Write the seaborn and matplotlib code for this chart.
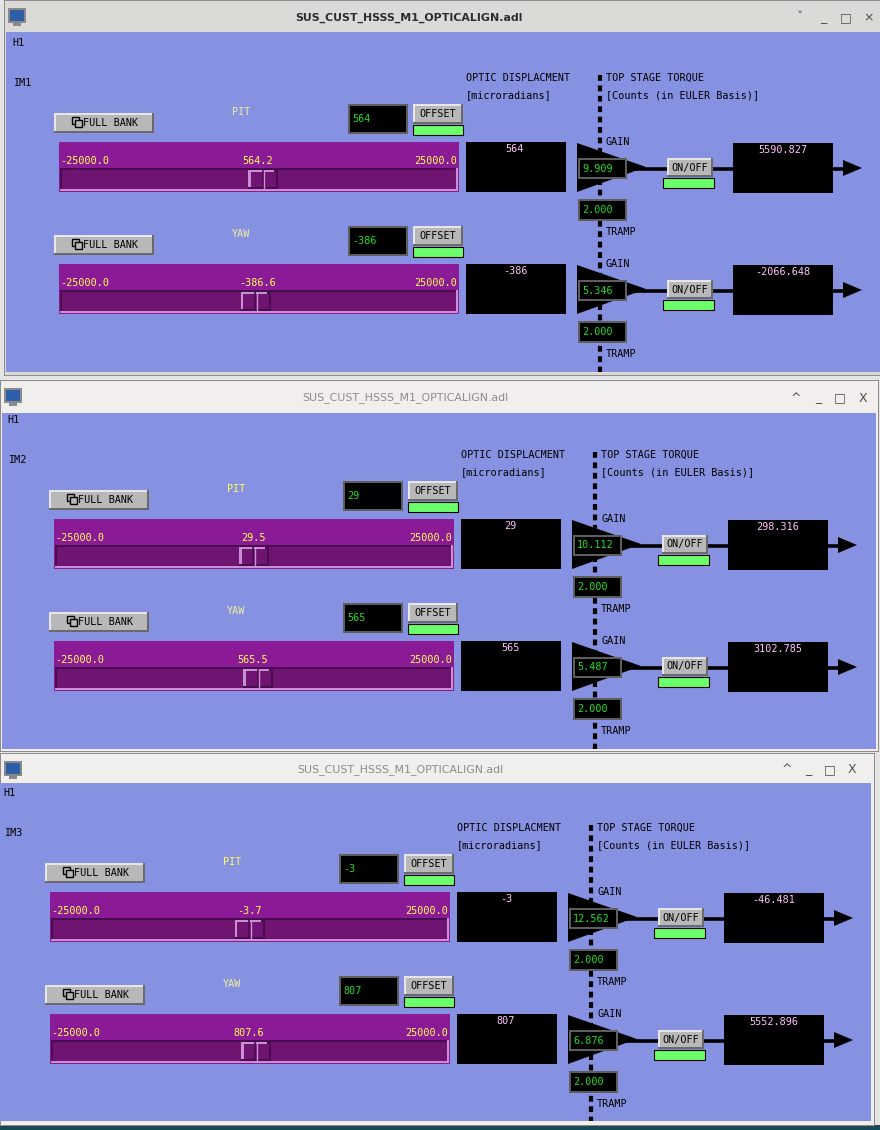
import seaborn as sns
import matplotlib
matplotlib.use("Agg")
import matplotlib.pyplot as plt
from matplotlib.patches import Rectangle, Polygon

sns.set_style("white")
plt.rcParams['font.family'] = ['DejaVu Sans Mono', 'DejaVu Sans']

# screen values
title = "SUS_CUST_HSSS_M1_OPTICALIGN.adl"
stages = ["IM1", "IM2", "IM3"]
dofs = ["PIT", "YAW"]
setpoints = [[564, -386], [29, 565], [-3, 807]]
slider_values = [[564.2, -386.6], [29.5, 565.5], [-3.7, 807.6]]
displacements = [[564, -386], [29, 565], [-3, 807]]
gains = [[9.909, 5.346], [10.112, 5.487], [12.562, 6.876]]
tramps = [[2.000, 2.000], [2.000, 2.000], [2.000, 2.000]]
outputs = [[5590.827, -2066.648], [298.316, 3102.785], [-46.481, 5552.896]]
slider_min, slider_max = -25000.0, 25000.0

W, H = 880, 1130
BLUE = "#8791e1"
PURPLE = "#8a1a96"
TROUGH = "#701472"
LAV = "#c98fd3"
DARKP = "#4a0c50"
GRAY = "#b8b8b8"
GREEN_IND = "#6cff6c"
GREEN_TXT = "#22dd22"
PINK = "#ffc4ff"
YEL = "#ffff55"
PALE = "#f0f09a"
FS = 7.3

fig = plt.figure(figsize=(W / 100, H / 100), dpi=100)
ax = fig.add_axes([0, 0, 1, 1])
ax.set_xlim(0, W)
ax.set_ylim(H, 0)
ax.axis("off")


def rect(x0, y0, x1, y1, fc, ec="none", lw=0, z=1):
    ax.add_patch(Rectangle((x0, y0), x1 - x0, y1 - y0, facecolor=fc,
                           edgecolor=ec, linewidth=lw, zorder=z))


def txt(x, y, s, color="black", size=FS, ha="left", **kw):
    ax.text(x, y, s, color=color, fontsize=size, ha=ha, va="center", zorder=10, **kw)


def button(x0, y0, x1, y1, label):
    rect(x0, y0, x1, y1, "#6a6a6a", z=3)
    rect(x0, y0, x1 - 2, y1 - 2, "#e6e6e6", z=3)
    rect(x0 + 2, y0 + 2, x1 - 2, y1 - 2, GRAY, z=3)
    if label:
        txt((x0 + x1) / 2, (y0 + y1) / 2, label, ha="center")


def entry(x0, y0, x1, y1, s):
    rect(x0, y0, x1, y1, "#5e5e5e", z=3)
    rect(x0 + 2, y0 + 2, x1 - 2, y1 - 2, "black", z=3)
    txt(x0 + 4, (y0 + y1) / 2, s, color=GREEN_TXT)


def fmt3(v):
    return "%.3f" % v


# desktop background
rect(0, 0, W, H, "#e4e4e4", z=0)
rect(0, 1125, W, H, "#1b4a56", z=0)

frames = [
    # x0, y0, x1, y1, title bottom, blue x0, blue x1, blue y1, active
    (4, 0, 881, 376, 31, 6, 881, 372, True),
    (0, 380, 879, 752, 412, 2, 876, 749, False),
    (0, 753, 875, 1126, 782, 0, 871, 1121, False),
]
offsets = [(0, 0), (-5, 377), (-9, 750)]
controls = [(800, 823, 846, 869), (796, 818, 840, 863), (787, 808, 830, 852)]
title_x = [409, 405, 400]

for w, (x0, y0, x1, y1, tb, bx0, bx1, by1, active) in enumerate(frames):
    rect(x0, y0, x1, y1, "#8c8c8c", z=1)
    rect(x0 + 1, y0 + 1, x1 - 1, y1 - 1, "#f0efed" if not active else "#dcdad6", z=1)
    rect(bx0, tb + 1, bx1, by1, BLUE, z=1)
    # icon
    rect(x0 + 4, y0 + 8, x0 + 22, y0 + 23, "#8a8a8a", z=2)
    rect(x0 + 6, y0 + 10, x0 + 20, y0 + 21, "#2c5fa8", z=2)
    rect(x0 + 9, y0 + 23, x0 + 17, y0 + 26, "#8a8a8a", z=2)
    tcol = "#2e2e2e" if active else "#8c8c8c"
    ax.text(title_x[w], (y0 + tb) / 2 + 2, title, color=tcol,
            fontsize=7.9, fontweight="bold" if active else "normal",
            family=["DejaVu Sans"], ha="center", va="center", zorder=10)
    cx = controls[w]
    cy = (y0 + tb) / 2 + 2
    for xx, sym in zip(cx, ["\u02c7" if active else "^", "_", "\u25a1", "\u00d7" if active else "X"]):
        ax.text(xx, cy, sym, color="#505050", fontsize=9, family=["DejaVu Sans"],
                ha="center", va="center", zorder=10)

for w, stage in enumerate(stages):
    dx, dy = offsets[w]
    txt(12 + dx, 43 + dy, "H1")
    txt(13 + dx, 83 + dy, stage)
    txt(466 + dx, 78 + dy, "OPTIC DISPLACMENT")
    txt(466 + dx, 95 + dy, "[microradians]")
    txt(606 + dx, 78 + dy, "TOP STAGE TORQUE")
    txt(606 + dx, 95 + dy, "[Counts (in EULER Basis)]")
    ax.plot([600 + dx, 600 + dx], [75 + dy, 372 + dy if w < 2 else 1121],
            color="black", lw=3, dashes=(1.4, 1.1), zorder=2,
            solid_capstyle="butt", dash_capstyle="butt")

    for r, dof in enumerate(dofs):
        oy = dy + 122 * r
        # full bank button
        button(54 + dx, 113 + oy, 154 + dx, 133 + oy, None)
        rect(72 + dx, 117 + oy, 79 + dx, 124 + oy, "none", ec="black", lw=1, z=4)
        rect(75 + dx, 120 + oy, 82 + dx, 127 + oy, GRAY, ec="black", lw=1, z=4)
        txt(83 + dx, 123 + oy, "FULL BANK")
        # dof label
        lc = YEL if (w > 0 and r == 0) else PALE
        txt(241 + dx, 112 + oy, dof, color=lc, ha="center")
        # setpoint entry + offset
        entry(348 + dx, 104 + oy, 408 + dx, 134 + oy, "%d" % setpoints[w][r])
        button(413 + dx, 104 + oy, 463 + dx, 124 + oy, "OFFSET")
        rect(413 + dx, 125 + oy, 463 + dx, 135 + oy, GREEN_IND, ec="black", lw=0.8, z=3)
        # slider
        rect(59 + dx, 142 + oy, 459 + dx, 192 + oy, PURPLE, z=3)
        txt(60 + dx, 161 + oy, "%.1f" % slider_min, color=YEL)
        txt(258 + dx, 161 + oy, "%.1f" % slider_values[w][r], color=YEL, ha="center")
        txt(457 + dx, 161 + oy, "%.1f" % slider_max, color=YEL, ha="right")
        rect(60 + dx, 168 + oy, 458 + dx, 191 + oy, LAV, z=3)
        rect(60 + dx, 168 + oy, 456 + dx, 189 + oy, DARKP, z=3)
        rect(62 + dx, 170 + oy, 456 + dx, 189 + oy, TROUGH, z=3)
        # thumb placed on a slider scale
        tx0, ty0, tx1, ty1 = 62 + dx, 170 + oy, 456 + dx, 189 + oy
        sl = fig.add_axes([tx0 / W, 1 - ty1 / H, (tx1 - tx0) / W, (ty1 - ty0) / H])
        sl.set_xlim(slider_min, slider_max)
        sl.set_ylim(0, 1)
        sl.patch.set_alpha(0)
        sl.axis("off")
        v = slider_values[w][r]
        half = 1900
        sl.bar([v], [1.0], width=2 * half, bottom=0, color=DARKP, linewidth=0)
        sl.bar([v - 250], [0.9], width=2 * half - 500, bottom=0.1, color=LAV, linewidth=0)
        sl.bar([v], [0.8], width=2 * half - 600, bottom=0.1, color=TROUGH, linewidth=0)
        sl.axvline(v - 120, color=DARKP, lw=1.2)
        sl.axvline(v + 120, color=LAV, lw=1)
        # displacement readback
        rect(466 + dx, 142 + oy, 566 + dx, 192 + oy, "black", z=3)
        txt(515 + dx, 149 + oy, "%d" % displacements[w][r], color=PINK, ha="center")
        # gain stage
        txt(606 + dx, 142 + oy, "GAIN")
        ax.add_patch(Polygon([(577 + dx, 143 + oy), (646 + dx, 167 + oy), (577 + dx, 192 + oy)],
                             closed=True, facecolor="black", edgecolor="none", zorder=3))
        ax.plot([627 + dx, 733 + dx], [169 + oy, 169 + oy], color="black", lw=2.6, zorder=3)
        entry(578 + dx, 158 + oy, 627 + dx, 179 + oy, fmt3(gains[w][r]))
        button(667 + dx, 158 + oy, 713 + dx, 177 + oy, "ON/OFF")
        rect(663 + dx, 178 + oy, 714 + dx, 188 + oy, GREEN_IND, ec="black", lw=0.8, z=3)
        entry(578 + dx, 199 + oy, 627 + dx, 221 + oy, fmt3(tramps[w][r]))
        txt(606 + dx, 232 + oy, "TRAMP")
        # output
        rect(733 + dx, 143 + oy, 833 + dx, 193 + oy, "black", z=3)
        txt(783 + dx, 150 + oy, fmt3(outputs[w][r]), color=PINK, ha="center")
        ax.plot([833 + dx, 850 + dx], [169 + oy, 169 + oy], color="black", lw=2.6, zorder=3)
        ax.add_patch(Polygon([(843 + dx, 160 + oy), (862 + dx, 168 + oy), (843 + dx, 176 + oy)],
                             closed=True, facecolor="black", edgecolor="none", zorder=3))

fig.savefig("out.png", dpi=100)
